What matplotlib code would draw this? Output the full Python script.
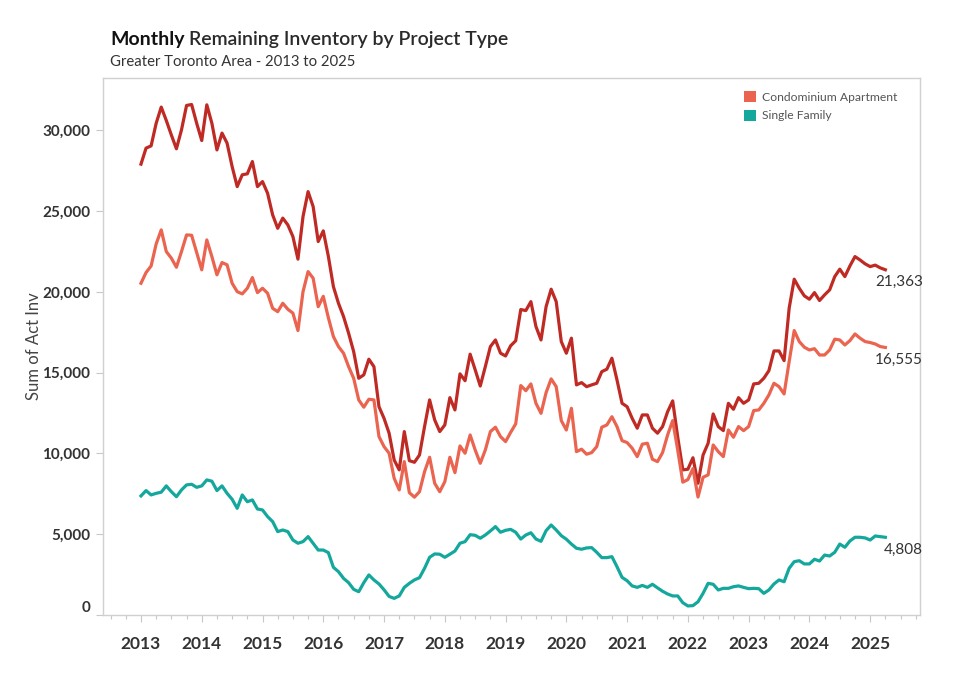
import numpy as np
import matplotlib.pyplot as plt
from matplotlib.patches import Patch

# monthly values, Jan 2013 .. Apr 2025
total = [27900, 28890, 29030, 30430, 31430, 30600, 29700, 28850, 30020, 31530, 31590, 30430,
         29360, 31570, 30430, 28780, 29820, 29200, 27750, 26510, 27240, 27300, 28060, 26510,
         26820, 26100, 24760, 23930, 24560, 24140, 23420, 22020, 24660, 26200, 25270, 23110,
         23770, 22200, 20320, 19290, 18470, 17440, 16300, 14650, 14860, 15830, 15370, 12890,
         12170, 11250, 9590, 8980, 11350, 9550, 9450, 9900, 11660, 13310, 12070, 11350,
         11760, 13450, 12690, 14920, 14500, 16140, 15170, 14170, 15370, 16610, 17020, 16200,
         16030, 16660, 16970, 18900, 18840, 19390, 17850, 17020, 19080, 20160, 19390, 16920,
         16200, 17130, 14240, 14380, 14130, 14240, 14340, 15060, 15210, 15890, 14550, 13100,
         12890, 12170, 11560, 12380, 12380, 11560, 11250, 11660, 12580, 13250, 11000, 8980,
         9020, 9730, 8150, 9900, 10630, 12440, 11660, 11410, 13100, 12730, 13450, 13100,
         13310, 14300, 14340, 14650, 15120, 16340, 16340, 15740, 18980, 20780, 20220, 19750,
         19540, 19950, 19460, 19810, 20120, 20940, 21400, 20940, 21600, 22180, 21970, 21730,
         21560, 21650, 21480, 21363]

condo = [20530, 21190, 21600, 22960, 23830, 22490, 22080, 21520, 22490, 23520, 23500, 22430,
         21360, 23210, 22180, 21050, 21810, 21670, 20530, 20010, 19870, 20220, 20880, 19950,
         20220, 19910, 18980, 18770, 19290, 18920, 18680, 17600, 20010, 21250, 20840, 19080,
         19720, 18400, 17230, 16610, 16200, 15370, 14650, 13310, 12860, 13350, 13310, 11040,
         10420, 10010, 8460, 7740, 9490, 7570, 7290, 7630, 8870, 9760, 8150, 7630,
         8250, 9760, 8810, 10460, 10010, 11140, 10210, 9390, 10210, 11350, 11620, 11040,
         10730, 11300, 11830, 14200, 13880, 14300, 13100, 12480, 13760, 14610, 14130, 12030,
         11450, 12790, 10110, 10260, 9950, 10050, 10420, 11620, 11760, 12270, 11660, 10790,
         10670, 10320, 9800, 10570, 10630, 9640, 9490, 10050, 11140, 12030, 10200, 8220,
         8380, 9060, 7300, 8520, 8670, 10520, 10110, 9800, 11450, 11000, 11660, 11410,
         11660, 12650, 12690, 13100, 13620, 14340, 14130, 13680, 15680, 17600, 16920, 16570,
         16400, 16480, 16090, 16090, 16400, 17070, 17020, 16710, 16980, 17390, 17130, 16920,
         16860, 16770, 16610, 16555]

single = [7370, 7700, 7430, 7530, 7600, 7990, 7630, 7320, 7740, 8050, 8090, 7900,
          7990, 8360, 8280, 7700, 7990, 7530, 7160, 6600, 7430, 7010, 7120, 6560,
          6500, 6090, 5780, 5160, 5260, 5160, 4640, 4440, 4540, 4850, 4440, 4020,
          4020, 3860, 2950, 2680, 2270, 2000, 1590, 1440, 2000, 2480, 2170, 1920,
          1560, 1150, 1030, 1180, 1710, 1960, 2170, 2310, 2890, 3570, 3780, 3760,
          3570, 3760, 3960, 4440, 4540, 4970, 4930, 4750, 4950, 5200, 5470, 5120,
          5240, 5300, 5120, 4700, 4950, 5090, 4700, 4560, 5220, 5570, 5260, 4910,
          4690, 4390, 4130, 4070, 4150, 4170, 3880, 3550, 3550, 3610, 2990, 2330,
          2120, 1800, 1710, 1830, 1710, 1900, 1680, 1470, 1300, 1180, 1180, 760,
          560, 580, 820, 1340, 1960, 1900, 1550, 1650, 1650, 1750, 1800, 1710,
          1630, 1650, 1630, 1340, 1550, 1920, 2170, 2060, 2890, 3300, 3360, 3160,
          3160, 3450, 3340, 3710, 3650, 3880, 4390, 4190, 4580, 4810, 4810, 4770,
          4640, 4890, 4850, 4808]

years = list(range(2013, 2026))
legend_labels = ['Condominium Apartment', 'Single Family']

c_total = '#bf2b24'
c_condo = '#ea6450'
c_single = '#14a89c'

plt.rcParams['font.family'] = ['Lato', 'DejaVu Sans']

t = 2013 + np.arange(len(total)) / 12

fig = plt.figure(figsize=(9.8, 6.84), dpi=100)
ax = fig.add_axes([103 / 980, 1 - 615 / 684, 817 / 980, 537 / 684])

ax.plot(t, total, color=c_total, lw=2.3, solid_joinstyle='round')
ax.plot(t, condo, color=c_condo, lw=2.3, solid_joinstyle='round')
ax.plot(t, single, color=c_single, lw=2.3, solid_joinstyle='round')

ax.set_xlim(2012.375, 2025.82)
ax.set_ylim(0, 33230)

# end labels
for s in [total, condo, single]:
    ax.annotate(f'{s[-1]:,}', xy=(t[-1], s[-1]), xytext=(27, -9), textcoords='offset points',
                ha='right', va='center', fontsize=11, color='#333333')

ax.set_xticks(years)
ax.set_xticklabels([str(y) for y in years], fontsize=12.5, fontweight='bold', color='#333333')
ax.set_xticks(np.arange(2012.5, 2025.8, 0.25), minor=True)
ax.set_yticks(range(0, 30001, 5000))
ax.set_yticklabels([f'{v:,}' for v in range(0, 30001, 5000)], fontsize=11,
                   fontweight='bold', color='#333333')
for lab in ax.get_yticklabels():
    if lab.get_text() == '0':
        lab.set_va('bottom')

ax.tick_params(axis='both', which='major', length=5, color='#c8c8c8', width=0.8, pad=4)
ax.tick_params(axis='x', which='minor', length=3, color='#c8c8c8', width=0.8)
ax.tick_params(axis='x', which='major', pad=10)
for sp in ax.spines.values():
    sp.set_color('#d0d0d0')
    sp.set_linewidth(1.0)

ax.set_ylabel('Sum of Act Inv', fontsize=12, color='#444444', labelpad=0)

handles = [Patch(facecolor=c_condo, edgecolor='none'), Patch(facecolor=c_single, edgecolor='none')]
fig.legend(handles, legend_labels, loc='upper left', bbox_to_anchor=(744 / 980, 1 - 91 / 684),
           frameon=False, fontsize=8.7, labelcolor='#555555', handlelength=1.0, handleheight=1.0,
           handletextpad=0.45, labelspacing=0.6, borderpad=0, borderaxespad=0)

t1 = fig.text(110 / 980, 1 - 39 / 684, 'Monthly', fontsize=14, fontweight='bold', color='#111111',
              va='center')
fig.canvas.draw()
ax.annotate('Remaining Inventory by Project Type', xy=(1, 0), xycoords=t1, xytext=(3.5, 0),
            textcoords='offset points', va='bottom', fontsize=14, fontweight='semibold',
            color='#2a2a2a')
fig.text(110 / 980, 1 - 62.5 / 684, 'Greater Toronto Area - 2013 to 2025', fontsize=10.7,
         color='#333333', va='center')

fig.savefig('out.png', dpi=100)
